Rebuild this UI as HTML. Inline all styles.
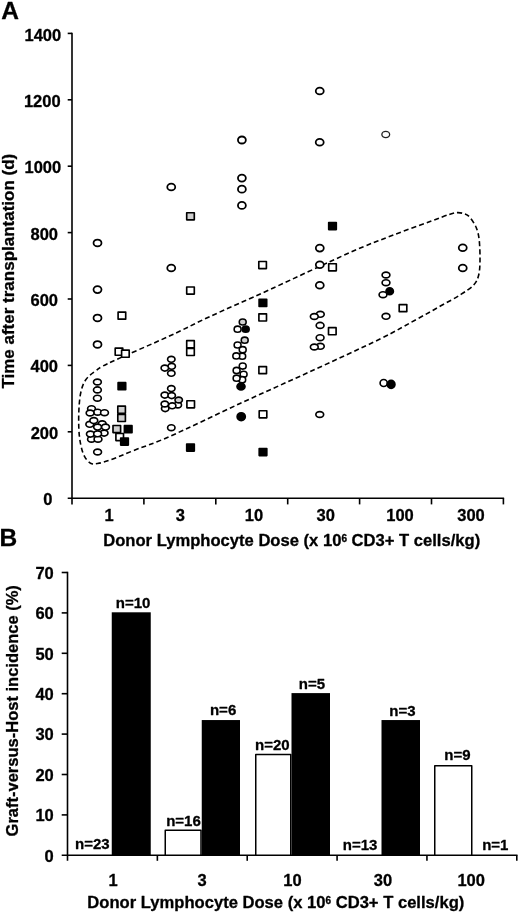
<!DOCTYPE html>
<html><head><meta charset="utf-8"><title>Figure</title>
<style>html,body{margin:0;padding:0;background:#fff}body{width:520px;height:914px;overflow:hidden;font-family:"Liberation Sans",sans-serif}</style></head>
<body>
<svg width="520" height="914" viewBox="0 0 520 914" style="display:block;will-change:transform;filter:grayscale(1)">
<rect width="520" height="914" fill="#fff" stroke="none"/>
<g font-family="'Liberation Sans', sans-serif" font-weight="bold" fill="#000" stroke="#000" stroke-width="0.3" stroke-linejoin="round">
<text x="1.2" y="18.8" font-size="24.5">A</text>
<text x="-0.5" y="545.8" font-size="24.5">B</text>
<g stroke="#000" stroke-width="1.6" fill="none" stroke-linecap="butt">
<path d="M72.0 32.699999999999974 V504.4"/>
<path d="M67.7 498.2 H504.09999999999997"/>
<path d="M67.7 431.80 H72.0"/>
<path d="M67.7 365.40 H72.0"/>
<path d="M67.7 299.00 H72.0"/>
<path d="M67.7 232.60 H72.0"/>
<path d="M67.7 166.20 H72.0"/>
<path d="M67.7 99.80 H72.0"/>
<path d="M67.7 33.40 H72.0"/>
<path d="M143.90 498.2 V504.4"/>
<path d="M215.80 498.2 V504.4"/>
<path d="M287.70 498.2 V504.4"/>
<path d="M359.60 498.2 V504.4"/>
<path d="M431.50 498.2 V504.4"/>
<path d="M503.40 498.2 V504.4"/>
</g>
<text x="61.2" y="40.90" font-size="16.5" text-anchor="end">1400</text>
<text x="60.6" y="106.70" font-size="16.5" text-anchor="end">1200</text>
<text x="61.2" y="173.20" font-size="16.5" text-anchor="end">1000</text>
<text x="58.0" y="239.60" font-size="16.5" text-anchor="end">800</text>
<text x="58.0" y="306.00" font-size="16.5" text-anchor="end">600</text>
<text x="58.0" y="372.40" font-size="16.5" text-anchor="end">400</text>
<text x="58.2" y="438.80" font-size="16.5" text-anchor="end">200</text>
<text x="52.5" y="505.20" font-size="16.5" text-anchor="end">0</text>
<text x="109.0" y="521.2" font-size="16.5" text-anchor="middle">1</text>
<text x="180.4" y="521.2" font-size="16.5" text-anchor="middle">3</text>
<text x="254.0" y="521.2" font-size="16.5" text-anchor="middle">10</text>
<text x="325.8" y="521.2" font-size="16.5" text-anchor="middle">30</text>
<text x="400.0" y="521.2" font-size="16.5" text-anchor="middle">100</text>
<text x="471.0" y="521.2" font-size="16.5" text-anchor="middle">300</text>
<text x="103.2" y="545.8" font-size="16.6">Donor Lymphocyte Dose (x 10<tspan font-size="10" dy="-4.2">6</tspan><tspan dy="4.2"> CD3+ T cells/kg)</tspan></text>
<text transform="translate(14.2 388.6) rotate(-90)" font-size="17">Time after transplantation (d)</text>
<path d="M110.0 362.5 C122.5 356.6 153.3 343.5 170.0 335.8 C186.7 328.1 193.3 324.2 210.0 316.5 C226.7 308.8 246.7 300.2 270.0 289.5 C293.3 278.8 330.0 261.4 350.0 252.5 C370.0 243.6 376.7 241.5 390.0 236.3 C403.3 231.1 420.0 225.2 430.0 221.5 C440.0 217.8 445.3 215.7 450.0 214.2 C454.7 212.7 455.5 212.6 458.0 212.6 C460.5 212.6 463.0 213.2 465.0 214.0 C467.0 214.8 468.1 215.2 470.0 217.5 C471.9 219.8 474.7 223.8 476.2 227.5 C477.7 231.2 478.6 234.6 479.2 240.0 C479.8 245.4 480.1 254.2 480.0 260.0 C479.9 265.8 479.8 270.8 478.7 275.0 C477.6 279.2 476.8 281.7 473.7 285.0 C470.6 288.3 465.6 291.4 460.0 295.0 C454.4 298.6 447.1 302.3 440.0 306.3 C432.9 310.3 427.5 313.4 417.5 318.8 C407.5 324.2 397.9 330.2 380.0 339.0 C362.1 347.8 333.3 360.9 310.0 371.7 C286.7 382.4 263.3 392.7 240.0 403.5 C216.7 414.3 187.5 428.6 170.0 436.3 C152.5 444.1 145.0 446.1 135.0 450.0 C125.0 453.9 116.2 457.8 110.0 460.0 C103.8 462.2 100.8 463.0 97.5 463.5 C94.2 464.0 92.7 464.4 90.5 463.2 C88.3 462.0 86.1 459.3 84.5 456.3 C82.9 453.3 81.7 449.4 80.8 445.0 C79.9 440.6 79.2 435.8 78.9 430.0 C78.6 424.2 78.6 416.2 78.9 410.0 C79.2 403.8 79.7 397.5 80.8 392.5 C81.9 387.5 83.2 383.6 85.6 380.0 C88.0 376.4 91.2 374.1 95.3 371.2 C99.4 368.3 97.5 368.4 110.0 362.5Z" fill="none" stroke="#000" stroke-width="1.6" stroke-dasharray="5 3.05"/>
<ellipse cx="97.5" cy="242.9" rx="4.0" ry="3.4" fill="#fff" stroke="#000" stroke-width="1.75"/>
<ellipse cx="97.5" cy="289.6" rx="4.0" ry="3.4" fill="#fff" stroke="#000" stroke-width="1.75"/>
<ellipse cx="97.5" cy="317.9" rx="4.0" ry="3.4" fill="#fff" stroke="#000" stroke-width="1.75"/>
<ellipse cx="97.5" cy="344.4" rx="4.0" ry="3.4" fill="#fff" stroke="#000" stroke-width="1.75"/>
<ellipse cx="97.4" cy="382.0" rx="3.9" ry="2.95" fill="#fff" stroke="#000" stroke-width="1.65"/>
<ellipse cx="97.4" cy="389.9" rx="3.9" ry="2.95" fill="#fff" stroke="#000" stroke-width="1.65"/>
<ellipse cx="97.4" cy="398.2" rx="3.9" ry="2.95" fill="#fff" stroke="#000" stroke-width="1.65"/>
<ellipse cx="91.5" cy="408.7" rx="3.9" ry="2.95" fill="#fff" stroke="#000" stroke-width="1.65"/>
<ellipse cx="97.6" cy="412.2" rx="3.9" ry="2.95" fill="#fff" stroke="#000" stroke-width="1.65"/>
<ellipse cx="90.1" cy="413.0" rx="3.9" ry="2.95" fill="#fff" stroke="#000" stroke-width="1.65"/>
<ellipse cx="104.5" cy="412.7" rx="3.9" ry="2.95" fill="#fff" stroke="#000" stroke-width="1.65"/>
<ellipse cx="102.2" cy="423.8" rx="3.9" ry="2.95" fill="#fff" stroke="#000" stroke-width="1.65"/>
<ellipse cx="89.8" cy="424.3" rx="3.9" ry="2.95" fill="#fff" stroke="#000" stroke-width="1.65"/>
<ellipse cx="104.1" cy="433.1" rx="3.9" ry="2.95" fill="#fff" stroke="#000" stroke-width="1.65"/>
<ellipse cx="91.5" cy="439.2" rx="3.9" ry="2.95" fill="#fff" stroke="#000" stroke-width="1.65"/>
<ellipse cx="98.0" cy="439.2" rx="3.9" ry="2.95" fill="#fff" stroke="#000" stroke-width="1.65"/>
<ellipse cx="90.4" cy="434.1" rx="3.9" ry="2.95" fill="#fff" stroke="#000" stroke-width="1.65"/>
<ellipse cx="97.6" cy="433.8" rx="3.9" ry="2.95" fill="#fff" stroke="#000" stroke-width="1.65"/>
<ellipse cx="97.6" cy="427.1" rx="3.9" ry="2.95" fill="#fff" stroke="#000" stroke-width="1.65"/>
<ellipse cx="105.5" cy="427.1" rx="3.9" ry="2.95" fill="#fff" stroke="#000" stroke-width="1.65"/>
<ellipse cx="93.8" cy="420.6" rx="3.9" ry="2.95" fill="#fff" stroke="#000" stroke-width="1.65"/>
<ellipse cx="97.6" cy="452.0" rx="3.9" ry="2.95" fill="#fff" stroke="#000" stroke-width="1.65"/>
<rect x="118.10" y="312.05" width="7.6" height="7.1" fill="#fff" stroke="#000" stroke-width="1.65"/>
<rect x="115.20" y="348.15" width="7.6" height="7.1" fill="#fff" stroke="#000" stroke-width="1.65"/>
<rect x="121.60" y="350.15" width="7.6" height="7.1" fill="#fff" stroke="#000" stroke-width="1.65"/>
<rect x="118.10" y="382.65" width="7.6" height="7.1" fill="#000" stroke="#000" stroke-width="1.65"/>
<rect x="117.80" y="406.15" width="7.6" height="7.1" fill="#d0d0d0" stroke="#000" stroke-width="1.65"/>
<rect x="117.80" y="414.35" width="7.6" height="7.1" fill="#d0d0d0" stroke="#000" stroke-width="1.65"/>
<rect x="113.00" y="425.45" width="7.6" height="7.1" fill="#d0d0d0" stroke="#000" stroke-width="1.65"/>
<rect x="124.40" y="425.65" width="7.6" height="7.1" fill="#000" stroke="#000" stroke-width="1.65"/>
<rect x="115.90" y="433.45" width="7.6" height="7.1" fill="#fff" stroke="#000" stroke-width="1.65"/>
<rect x="120.70" y="437.95" width="7.6" height="7.1" fill="#000" stroke="#000" stroke-width="1.65"/>
<ellipse cx="171.25" cy="187" rx="4.0" ry="3.4" fill="#fff" stroke="#000" stroke-width="1.75"/>
<ellipse cx="171.25" cy="268" rx="4.0" ry="3.4" fill="#fff" stroke="#000" stroke-width="1.75"/>
<ellipse cx="171.3" cy="359.3" rx="3.7" ry="2.95" fill="#fff" stroke="#000" stroke-width="1.65"/>
<ellipse cx="171.7" cy="366.3" rx="3.7" ry="2.95" fill="#fff" stroke="#000" stroke-width="1.65"/>
<ellipse cx="164.8" cy="368.1" rx="3.7" ry="2.95" fill="#fff" stroke="#000" stroke-width="1.65"/>
<ellipse cx="171.3" cy="373.3" rx="3.7" ry="2.95" fill="#fff" stroke="#000" stroke-width="1.65"/>
<ellipse cx="171.3" cy="388.6" rx="3.7" ry="2.95" fill="#fff" stroke="#000" stroke-width="1.65"/>
<ellipse cx="164.8" cy="395.1" rx="3.7" ry="2.95" fill="#fff" stroke="#000" stroke-width="1.65"/>
<ellipse cx="171.7" cy="395.6" rx="3.7" ry="2.95" fill="#fff" stroke="#000" stroke-width="1.65"/>
<ellipse cx="177.8" cy="404.9" rx="3.7" ry="2.95" fill="#fff" stroke="#000" stroke-width="1.65"/>
<ellipse cx="178.7" cy="400" rx="3.7" ry="2.95" fill="#d0d0d0" stroke="#000" stroke-width="1.65"/>
<ellipse cx="165.2" cy="408.6" rx="3.7" ry="2.95" fill="#fff" stroke="#000" stroke-width="1.65"/>
<ellipse cx="164.8" cy="404" rx="3.7" ry="2.95" fill="#fff" stroke="#000" stroke-width="1.65"/>
<ellipse cx="172.2" cy="405.8" rx="3.7" ry="2.95" fill="#fff" stroke="#000" stroke-width="1.65"/>
<ellipse cx="171.3" cy="427.7" rx="3.7" ry="2.95" fill="#fff" stroke="#000" stroke-width="1.65"/>
<rect x="186.70" y="212.70" width="7.6" height="7.1" fill="#d0d0d0" stroke="#000" stroke-width="1.65"/>
<rect x="186.70" y="286.95" width="7.6" height="7.1" fill="#fff" stroke="#000" stroke-width="1.65"/>
<rect x="186.70" y="340.65" width="7.6" height="7.1" fill="#fff" stroke="#000" stroke-width="1.65"/>
<rect x="186.70" y="348.35" width="7.6" height="7.1" fill="#fff" stroke="#000" stroke-width="1.65"/>
<rect x="186.90" y="400.75" width="7.6" height="7.1" fill="#fff" stroke="#000" stroke-width="1.65"/>
<rect x="186.70" y="443.95" width="7.6" height="7.1" fill="#000" stroke="#000" stroke-width="1.65"/>
<ellipse cx="241.9" cy="140" rx="3.95" ry="3.5" fill="#fff" stroke="#000" stroke-width="1.8"/>
<ellipse cx="241.9" cy="178.1" rx="3.95" ry="3.5" fill="#fff" stroke="#000" stroke-width="1.8"/>
<ellipse cx="241.9" cy="189.2" rx="3.95" ry="3.5" fill="#fff" stroke="#000" stroke-width="1.8"/>
<ellipse cx="241.9" cy="205.4" rx="3.95" ry="3.5" fill="#fff" stroke="#000" stroke-width="1.8"/>
<ellipse cx="242.7" cy="322" rx="3.45" ry="3.05" fill="#d0d0d0" stroke="#000" stroke-width="1.6"/>
<ellipse cx="237.6" cy="329.2" rx="3.45" ry="3.05" fill="#fff" stroke="#000" stroke-width="1.6"/>
<ellipse cx="245.7" cy="329.2" rx="3.45" ry="3.05" fill="#000" stroke="#000" stroke-width="1.6"/>
<ellipse cx="244.7" cy="340.2" rx="3.45" ry="3.05" fill="#d0d0d0" stroke="#000" stroke-width="1.6"/>
<ellipse cx="237.6" cy="345" rx="3.45" ry="3.05" fill="#fff" stroke="#000" stroke-width="1.6"/>
<ellipse cx="242.7" cy="349.7" rx="3.45" ry="3.05" fill="#fff" stroke="#000" stroke-width="1.6"/>
<ellipse cx="242.2" cy="356.2" rx="3.45" ry="3.05" fill="#fff" stroke="#000" stroke-width="1.6"/>
<ellipse cx="236.3" cy="355.9" rx="3.45" ry="3.05" fill="#fff" stroke="#000" stroke-width="1.6"/>
<ellipse cx="242.7" cy="366.1" rx="3.45" ry="3.05" fill="#fff" stroke="#000" stroke-width="1.6"/>
<ellipse cx="236.6" cy="370.4" rx="3.45" ry="3.05" fill="#fff" stroke="#000" stroke-width="1.6"/>
<ellipse cx="243.6" cy="374.3" rx="3.45" ry="3.05" fill="#fff" stroke="#000" stroke-width="1.6"/>
<ellipse cx="242.2" cy="379.7" rx="3.45" ry="3.05" fill="#fff" stroke="#000" stroke-width="1.6"/>
<ellipse cx="236.6" cy="378.2" rx="3.45" ry="3.05" fill="#fff" stroke="#000" stroke-width="1.6"/>
<ellipse cx="241" cy="386.5" rx="4.0" ry="3.45" fill="#000" stroke="#000" stroke-width="1.65"/>
<ellipse cx="241.2" cy="416.7" rx="4.1" ry="3.95" fill="#000" stroke="#000" stroke-width="1.65"/>
<rect x="258.80" y="261.45" width="7.6" height="7.1" fill="#fff" stroke="#000" stroke-width="1.65"/>
<rect x="259.10" y="299.35" width="7.6" height="7.1" fill="#000" stroke="#000" stroke-width="1.65"/>
<rect x="258.90" y="313.85" width="7.6" height="7.1" fill="#fff" stroke="#000" stroke-width="1.65"/>
<rect x="258.90" y="366.55" width="7.6" height="7.1" fill="#fff" stroke="#000" stroke-width="1.65"/>
<rect x="259.20" y="410.70" width="7.6" height="7.1" fill="#fff" stroke="#000" stroke-width="1.65"/>
<rect x="259.20" y="448.45" width="7.6" height="7.1" fill="#000" stroke="#000" stroke-width="1.65"/>
<ellipse cx="319.75" cy="91" rx="4.0" ry="3.4" fill="#fff" stroke="#000" stroke-width="1.75"/>
<ellipse cx="319.7" cy="142.3" rx="4.0" ry="3.4" fill="#fff" stroke="#000" stroke-width="1.75"/>
<ellipse cx="319.8" cy="248.1" rx="4.0" ry="3.4" fill="#fff" stroke="#000" stroke-width="1.75"/>
<ellipse cx="319.8" cy="264.8" rx="4.0" ry="3.4" fill="#fff" stroke="#000" stroke-width="1.75"/>
<ellipse cx="319.8" cy="285.2" rx="4.0" ry="3.4" fill="#fff" stroke="#000" stroke-width="1.75"/>
<ellipse cx="320.3" cy="314.3" rx="3.9" ry="2.95" fill="#fff" stroke="#000" stroke-width="1.65"/>
<ellipse cx="314.3" cy="316.5" rx="3.9" ry="2.95" fill="#fff" stroke="#000" stroke-width="1.65"/>
<ellipse cx="320.1" cy="325.4" rx="3.9" ry="2.95" fill="#fff" stroke="#000" stroke-width="1.65"/>
<ellipse cx="320.1" cy="337.7" rx="3.9" ry="2.95" fill="#fff" stroke="#000" stroke-width="1.65"/>
<ellipse cx="320.3" cy="346.3" rx="3.9" ry="2.95" fill="#fff" stroke="#000" stroke-width="1.65"/>
<ellipse cx="314.3" cy="347" rx="3.9" ry="2.95" fill="#fff" stroke="#000" stroke-width="1.65"/>
<ellipse cx="319.75" cy="414.5" rx="3.9" ry="2.95" fill="#fff" stroke="#000" stroke-width="1.65"/>
<rect x="328.70" y="222.45" width="7.6" height="7.1" fill="#000" stroke="#000" stroke-width="1.65"/>
<rect x="328.70" y="263.75" width="7.6" height="7.1" fill="#fff" stroke="#000" stroke-width="1.65"/>
<rect x="328.50" y="327.65" width="7.6" height="7.1" fill="#fff" stroke="#000" stroke-width="1.65"/>
<ellipse cx="385.75" cy="134.5" rx="3.9" ry="3.1" fill="#fff" stroke="#222" stroke-width="1.3"/>
<ellipse cx="386" cy="275" rx="3.9" ry="2.95" fill="#fff" stroke="#000" stroke-width="1.65"/>
<ellipse cx="386" cy="282.7" rx="3.9" ry="2.95" fill="#fff" stroke="#000" stroke-width="1.65"/>
<ellipse cx="389.7" cy="291.2" rx="3.7" ry="3.5" fill="#000" stroke="#000" stroke-width="1.65"/>
<ellipse cx="383" cy="294.7" rx="3.9" ry="2.95" fill="#fff" stroke="#000" stroke-width="1.65"/>
<ellipse cx="386" cy="316.3" rx="3.9" ry="2.95" fill="#fff" stroke="#000" stroke-width="1.65"/>
<ellipse cx="383.7" cy="383" rx="3.6" ry="3.5" fill="#fff" stroke="#000" stroke-width="1.65"/>
<ellipse cx="391.1" cy="384.4" rx="3.85" ry="3.95" fill="#000" stroke="#000" stroke-width="1.65"/>
<rect x="399.20" y="304.55" width="7.6" height="7.1" fill="#fff" stroke="#000" stroke-width="1.65"/>
<ellipse cx="462.75" cy="247.75" rx="4.0" ry="3.4" fill="#fff" stroke="#000" stroke-width="1.75"/>
<ellipse cx="462.75" cy="268" rx="4.0" ry="3.4" fill="#fff" stroke="#000" stroke-width="1.75"/>
<g stroke="#000" stroke-width="1.6" fill="none">
<path d="M67.5 571.8 V860.8"/>
<path d="M61.7 855.3 H517.5"/>
<path d="M61.7 814.90 H67.5"/>
<path d="M61.7 774.50 H67.5"/>
<path d="M61.7 734.10 H67.5"/>
<path d="M61.7 693.70 H67.5"/>
<path d="M61.7 653.30 H67.5"/>
<path d="M61.7 612.90 H67.5"/>
<path d="M61.7 572.50 H67.5"/>
<path d="M157.36 855.3 V860.8"/>
<path d="M247.22 855.3 V860.8"/>
<path d="M337.08 855.3 V860.8"/>
<path d="M426.94 855.3 V860.8"/>
<path d="M516.80 855.3 V860.8"/>
</g>
<text x="53.8" y="861.60" font-size="16.5" text-anchor="end">0</text>
<text x="53.8" y="821.20" font-size="16.5" text-anchor="end">10</text>
<text x="53.8" y="780.80" font-size="16.5" text-anchor="end">20</text>
<text x="53.8" y="740.40" font-size="16.5" text-anchor="end">30</text>
<text x="53.8" y="700.00" font-size="16.5" text-anchor="end">40</text>
<text x="53.8" y="659.60" font-size="16.5" text-anchor="end">50</text>
<text x="53.8" y="619.20" font-size="16.5" text-anchor="end">60</text>
<text x="53.8" y="578.80" font-size="16.5" text-anchor="end">70</text>
<text x="113" y="886.4" font-size="16.5" text-anchor="middle">1</text>
<text x="202.2" y="886.4" font-size="16.5" text-anchor="middle">3</text>
<text x="292.5" y="886.4" font-size="16.5" text-anchor="middle">10</text>
<text x="383" y="886.4" font-size="16.5" text-anchor="middle">30</text>
<text x="471.2" y="886.4" font-size="16.5" text-anchor="middle">100</text>
<text x="87.3" y="908.2" font-size="16.6">Donor Lymphocyte Dose (x 10<tspan font-size="10" dy="-4.2">6</tspan><tspan dy="4.2"> CD3+ T cells/kg)</tspan></text>
<text transform="translate(18.2 836.4) rotate(-90)" font-size="16.5">Graft-versus-Host incidence (%)</text>
<rect x="75.25" y="855.44" width="35.75" height="-0.14" fill="#fff" stroke="#000" stroke-width="1.5"/>
<rect x="111.75" y="612.30" width="39.0" height="243.00" fill="#000" stroke="none"/>
<rect x="165.25" y="830.20" width="35.75" height="25.10" fill="#fff" stroke="#000" stroke-width="1.5"/>
<rect x="201.75" y="720.05" width="38.25" height="135.25" fill="#000" stroke="none"/>
<rect x="255.75" y="754.45" width="35.0" height="100.85" fill="#fff" stroke="#000" stroke-width="1.5"/>
<rect x="291.5" y="693.10" width="38.5" height="162.20" fill="#000" stroke="none"/>
<rect x="344.25" y="855.44" width="36.5" height="-0.14" fill="#fff" stroke="#000" stroke-width="1.5"/>
<rect x="381.5" y="720.05" width="38.5" height="135.25" fill="#000" stroke="none"/>
<rect x="434.75" y="765.76" width="37.0" height="89.54" fill="#fff" stroke="#000" stroke-width="1.5"/>
<rect x="473.25" y="855.44" width="36.0" height="-0.14" fill="#fff" stroke="#000" stroke-width="1.5"/>
<text x="92.3" y="849.4" font-size="15" text-anchor="middle">n=23</text>
<text x="133.1" y="607.8" font-size="15" text-anchor="middle">n=10</text>
<text x="183.5" y="826.3" font-size="15" text-anchor="middle">n=16</text>
<text x="223.1" y="715.3" font-size="15" text-anchor="middle">n=6</text>
<text x="272.4" y="750.3" font-size="15" text-anchor="middle">n=20</text>
<text x="311.9" y="689.2" font-size="15" text-anchor="middle">n=5</text>
<text x="360.1" y="849.5" font-size="15" text-anchor="middle">n=13</text>
<text x="402.4" y="715.5" font-size="15" text-anchor="middle">n=3</text>
<text x="457.5" y="759.8" font-size="15" text-anchor="middle">n=9</text>
<text x="495.3" y="849.5" font-size="15" text-anchor="middle">n=1</text>
</g></svg>
</body></html>
